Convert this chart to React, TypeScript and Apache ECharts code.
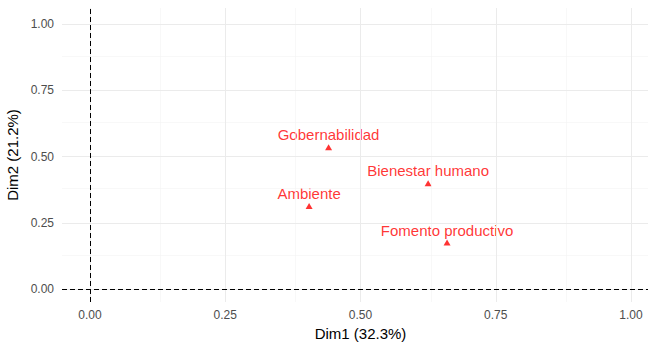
import React, { useEffect, useRef } from "react";
import * as echarts from "echarts";

const labels = ["Gobernabilidad", "Bienestar humano", "Ambiente", "Fomento productivo"];
const dim1 = [0.441, 0.625, 0.405, 0.660];
const dim2 = [0.535, 0.400, 0.314, 0.176];
const tickValues = [0, 0.25, 0.5, 0.75, 1.0];
const minorValues = [0.125, 0.375, 0.625, 0.875];

export default function App() {
  const ref = useRef<HTMLDivElement>(null);
  useEffect(() => {
    document.body.style.margin = "0";
    const chart = echarts.init(ref.current!, null, { renderer: "svg" });
    const fontFamily = "Liberation Sans, Arial, sans-serif";
    const majorStyle = { color: "#EBEBEB", width: 1, type: "solid" as const };
    const minorStyle = { color: "#F3F3F3", width: 0.6, type: "solid" as const };
    const gridLines = (vals: number[], style: any) => [
      ...vals.map((v) => ({ xAxis: v, lineStyle: style })),
      ...vals.map((v) => ({ yAxis: v, lineStyle: style })),
    ];
    chart.setOption({
      animation: false,
      backgroundColor: "#FFFFFF",
      grid: { left: 62, top: 8, width: 597, height: 294, outerBoundsMode: "none", containLabel: false },
      xAxis: {
        type: "value",
        min: -0.0517,
        max: 1.0517,
        name: "Dim1 (32.3%)",
        nameLocation: "middle",
        nameGap: 23,
        nameTextStyle: { color: "#000000", fontSize: 15, fontFamily },
        axisLine: { show: false },
        splitLine: { show: false },
        axisTick: {
          show: true,
          customValues: tickValues,
          length: 4,
          lineStyle: { color: "#333333", width: 1 },
        },
        axisLabel: {
          customValues: tickValues,
          formatter: (v: number) => v.toFixed(2),
          color: "#4D4D4D",
          fontSize: 12,
          fontFamily,
          margin: 7,
        },
      },
      yAxis: {
        type: "value",
        min: -0.048,
        max: 1.06,
        name: "Dim2 (21.2%)",
        nameLocation: "middle",
        nameGap: 32,
        nameTextStyle: { color: "#000000", fontSize: 15, fontFamily },
        axisLine: { show: false },
        splitLine: { show: false },
        axisTick: {
          show: true,
          customValues: tickValues,
          length: 4,
          lineStyle: { color: "#333333", width: 1 },
        },
        axisLabel: {
          customValues: tickValues,
          formatter: (v: number) => v.toFixed(2),
          color: "#4D4D4D",
          fontSize: 12,
          fontFamily,
          margin: 8,
        },
      },
      series: [
        {
          type: "scatter",
          data: [],
          silent: true,
          z: 1,
          markLine: {
            silent: true,
            symbol: ["none", "none"],
            label: { show: false },
            animation: false,
            data: [...gridLines(minorValues, minorStyle), ...gridLines(tickValues, majorStyle)],
          },
        },
        {
          type: "scatter",
          data: [],
          silent: true,
          z: 2,
          markLine: {
            silent: true,
            symbol: ["none", "none"],
            label: { show: false },
            animation: false,
            lineStyle: { color: "#000000", width: 1, type: [5, 3] },
            data: [{ xAxis: 0 }, { yAxis: 0 }],
          },
        },
        {
          type: "scatter",
          z: 3,
          symbol: "triangle",
          symbolSize: [7, 6],
          itemStyle: { color: "#FF0000" },
          data: dim1.map((x, i) => ({ value: [x, dim2[i]], name: labels[i] })),
          label: {
            show: true,
            position: "inside",
            offset: [0, -12.5],
            formatter: (p: any) => p.name,
            color: "#FF0000",
            fontSize: 15,
            fontFamily,
          },
        },
      ],
    });
    return () => chart.dispose();
  }, []);
  return (
    <div
      ref={ref}
      style={{ position: "fixed", left: 0, top: 0, width: 648, height: 346, background: "#fff" }}
    />
  );
}
